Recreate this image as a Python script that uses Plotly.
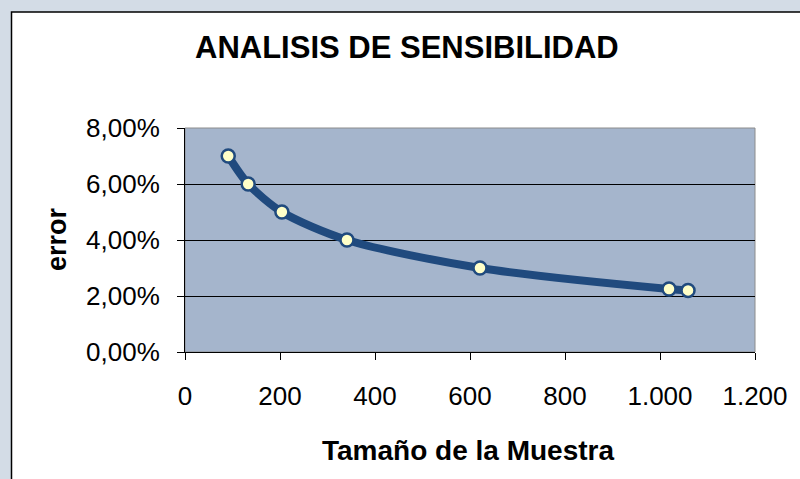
import plotly.graph_objects as go

# Data
tamano = [91, 133, 204, 341, 621, 1019, 1059]
error = [0.07, 0.06, 0.05, 0.04, 0.03, 0.0225, 0.022]
x_ticks = [0, 200, 400, 600, 800, 1000, 1200]
y_ticks = [0, 0.02, 0.04, 0.06, 0.08]

W, H = 800, 479
L, R, T, B = 185, 755, 128, 352  # plot area pixels
pw, ph = R - L, B - T

def px_x(p):
    return (p - L) / pw

def px_y(p):
    return (B - p) / ph

FONT = "Liberation Sans, Arial, sans-serif"

fig = go.Figure()
fig.add_trace(go.Scatter(
    x=tamano, y=error, mode="lines+markers",
    line=dict(color="#204A7E", width=8, shape="spline", smoothing=0.8),
    marker=dict(size=13, color="#FFFFC8", line=dict(color="#204A7E", width=2.5)),
    showlegend=False, cliponaxis=False,
))

fig.update_layout(
    width=W, height=H,
    margin=dict(l=L, r=W - R, t=T, b=H - B),
    paper_bgcolor="#D3DCE6",
    plot_bgcolor="rgba(0,0,0,0)",
    separators=",.",
    font=dict(family=FONT, color="black", size=26),
    shapes=[
        dict(type="rect", xref="paper", yref="paper", layer="below",
             x0=px_x(11.5), x1=px_x(820), y0=px_y(500), y1=px_y(12),
             fillcolor="white", line=dict(color="black", width=1.5)),
        dict(type="rect", xref="paper", yref="paper", layer="below",
             x0=0, x1=1, y0=0, y1=1,
             fillcolor="#A5B5CC", line=dict(color="#8C8C8C", width=1)),
    ],
    annotations=[
        dict(text="<b>ANALISIS DE SENSIBILIDAD</b>", xref="paper", yref="paper",
             x=px_x(407), y=px_y(47.5), showarrow=False,
             font=dict(size=31, family=FONT), xanchor="center", yanchor="middle"),
        dict(text="<b>Tamaño de la Muestra</b>", xref="paper", yref="paper",
             x=px_x(468), y=px_y(450), showarrow=False,
             font=dict(size=28, family=FONT), xanchor="center", yanchor="middle"),
        dict(text="<b>error</b>", xref="paper", yref="paper",
             x=px_x(57), y=px_y(239), showarrow=False, textangle=-90,
             font=dict(size=27, family=FONT), xanchor="center", yanchor="middle"),
    ],
)

fig.update_xaxes(
    range=[0, 1200], tickvals=x_ticks, tickformat=",d",
    showgrid=False, zeroline=False, showline=True, linecolor="black", linewidth=1,
    ticks="outside", ticklen=7, tickcolor="black", tickwidth=1,
    ticklabelstandoff=14,
)
fig.update_yaxes(
    range=[0, 0.08], tickvals=y_ticks, tickformat=".2%",
    showgrid=True, gridcolor="black", gridwidth=1, zeroline=False,
    showline=True, linecolor="black", linewidth=1,
    ticks="outside", ticklen=7, tickcolor="black", tickwidth=1,
    ticklabelstandoff=12,
)

fig.write_html(
    "out.html",
    config={"displayModeBar": False},
    post_script="document.body.style.margin='0';document.body.style.overflow='hidden';",
)
